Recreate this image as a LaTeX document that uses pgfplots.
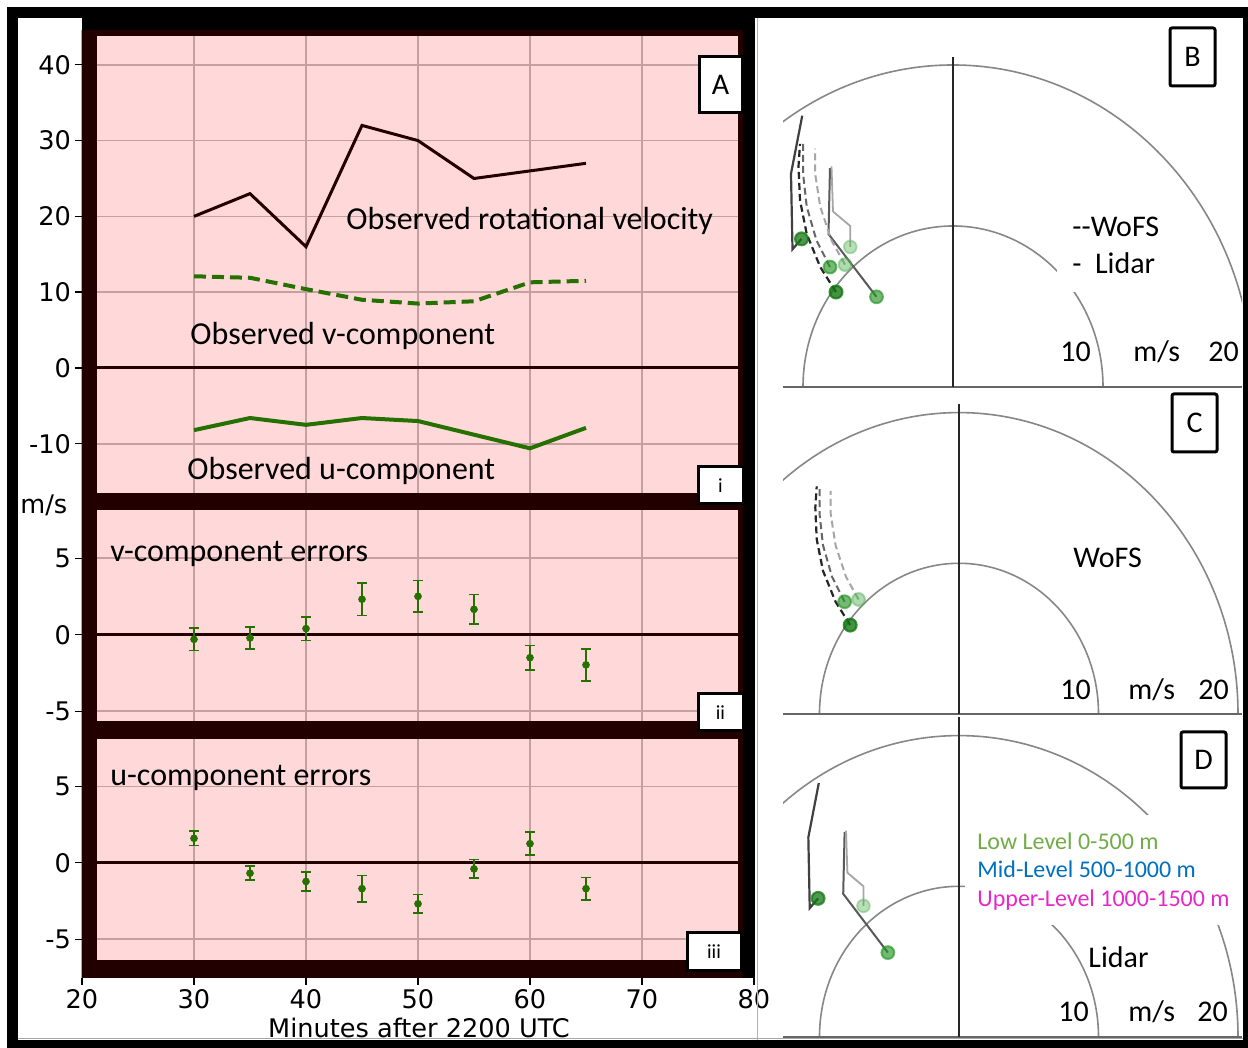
\documentclass[border=0pt]{standalone}
\usepackage{fontspec}
\setmainfont{Carlito}
\newfontfamily\dejavu{DejaVu Sans}
\usepackage{pgfplots}
\usepackage{pgfplotstable}
\pgfplotsset{compat=1.18}

\definecolor{panelpink}{RGB}{255,217,217}
\definecolor{spine}{RGB}{34,0,0}
\definecolor{gridpink}{RGB}{196,160,160}
\definecolor{obsgreen}{RGB}{38,112,0}
\definecolor{ringgray}{RGB}{135,135,135}
\definecolor{lowgreen}{RGB}{112,173,71}
\definecolor{midblue}{RGB}{0,112,192}
\definecolor{upmag}{RGB}{230,40,200}
\definecolor{dotA}{RGB}{20,120,20}
\definecolor{dotB}{RGB}{40,150,40}
\definecolor{dotC}{RGB}{80,175,80}

\newcommand{\tickfont}{\dejavu\fontsize{12.8}{15}\selectfont}
\newcommand{\notefont}{\fontsize{16}{19}\selectfont}
\newcommand{\hodofont}{\fontsize{15}{18}\selectfont}

% observed series (minutes after 2200 UTC, m/s)
\pgfplotstableread{
t rot v u
30 20 12.1 -8.2
35 23 11.9 -6.6
40 16 10.4 -7.5
45 32 9.0 -6.6
50 30 8.5 -7.0
55 25 8.8 -8.8
60 26 11.3 -10.6
65 27 11.5 -7.9
}\obstable

\pgfplotstableread{
t err sd
30 -0.30 0.74
35 -0.21 0.72
40 0.40 0.77
45 2.32 1.05
50 2.51 1.03
55 1.66 0.96
60 -1.50 0.79
65 -1.97 1.05
}\verrtable

\pgfplotstableread{
t err sd
30 1.60 0.48
35 -0.68 0.46
40 -1.22 0.62
45 -1.69 0.86
50 -2.68 0.62
55 -0.40 0.61
60 1.25 0.76
65 -1.69 0.73
}\uerrtable

% hodograph traces (u, v in m/s), lowest level first
\pgfplotstableread{
u v
-10.1 9.2
-10.7 8.55
-10.8 13.25
-10.05 16.85
}\lidarA
\pgfplotstableread{
u v
-5.1 5.6
-8.3 9.5
-8.2 13.6
}\lidarB
\pgfplotstableread{
u v
-6.85 8.7
-6.85 10.0
-8.0 10.9
-8.1 13.7
}\lidarC
\pgfplotstableread{
u v
-7.8 5.9
-8.85 7.45
-9.75 9.5
-10.2 11.6
-10.3 13.7
-10.2 15.1
}\wofsA
\pgfplotstableread{
u v
-8.2 7.45
-9.1 9.1
-9.75 11.2
-10.0 13.3
-10.0 15.1
}\wofsB
\pgfplotstableread{
u v
-7.2 7.6
-8.1 9.1
-8.85 11.2
-9.2 13.3
-9.2 14.8
}\wofsC

\pgfplotsset{
  leftpanel/.style={
    scale only axis, width=336pt, xmin=20, xmax=80,
    anchor=south west,
    axis background/.style={fill=panelpink},
    axis line style={draw=none},
    xtick={20,30,...,80},
    tick pos=left,
    grid=major,
    major grid style={gridpink, line width=0.8pt},
    tick align=outside,
    major tick length=3.5pt,
    tick style={black, line width=0.7pt},
    ticklabel style={font=\tickfont},
    yticklabel style={xshift=1.5pt},
  },
  errpts/.style={obsgreen, only marks, mark=*, mark size=1.7pt,
    error bars/.cd, y dir=both, y explicit,
    error bar style={line width=0.8pt, obsgreen},
    error mark options={rotate=90, mark size=2.3pt, line width=0.8pt, obsgreen}},
  hodo/.style={hide axis, anchor=south west, clip=true, ymin=0},
  dotstyle/.style={mark=*, mark indices={1}, mark size=3.2pt},
  lidA/.style={black!75, line width=1.1pt, dotstyle,
    mark options={solid, draw=dotA, fill=dotA, opacity=0.75}},
  lidB/.style={black!65, line width=1.0pt, dotstyle,
    mark options={solid, draw=dotB, fill=dotB, opacity=0.65}},
  lidC/.style={black!35, line width=0.9pt, dotstyle,
    mark options={solid, draw=dotC, fill=dotC, opacity=0.4}},
  wofA/.style={black!85, line width=1.1pt, dash pattern=on 3.5pt off 2pt, dotstyle,
    mark options={solid, draw=dotA, fill=dotA, opacity=0.8}},
  wofB/.style={black!60, line width=1.0pt, dash pattern=on 3.5pt off 2pt, dotstyle,
    mark options={solid, draw=dotB, fill=dotB, opacity=0.65}},
  wofC/.style={black!35, line width=1.0pt, dash pattern=on 3.5pt off 2pt, dotstyle,
    mark options={solid, draw=dotC, fill=dotC, opacity=0.45}},
}

\tikzset{px/.style={x=0.5pt, y=-0.5pt, yshift=524pt}}

\begin{document}
\begin{tikzpicture}
\fill[white] (0,0) rectangle (624pt,524pt);

% ---------- panel A(i): observed series ----------
\begin{axis}[leftpanel, at={(41pt,277.5pt)}, height=231.5pt,
  ymin=-16.49, ymax=44.59, ytick={-10,0,...,40},
  yticklabels={-10,0,10,20,30,40}, xticklabels={}]
  \draw[spine, line width=1.5pt] (axis cs:20,0) -- (axis cs:80,0);
  \addplot[spine, line width=1.5pt] table[x=t, y=rot] {\obstable};
  \addplot[obsgreen, line width=2pt, dash pattern=on 6pt off 3pt] table[x=t, y=v] {\obstable};
  \addplot[obsgreen, line width=2pt] table[x=t, y=u] {\obstable};
\end{axis}

% ---------- panel A(ii): v-component errors ----------
\begin{axis}[leftpanel, at={(41pt,163.5pt)}, height=114pt,
  ymin=-5.64, ymax=9.27, ytick={-5,0,5}, yticklabels={-5,0,5}, xticklabels={}]
  \draw[spine, line width=1.5pt] (axis cs:20,0) -- (axis cs:80,0);
  \addplot[errpts] table[x=t, y=err, y error=sd] {\verrtable};
\end{axis}

% ---------- panel A(iii): u-component errors ----------
\begin{axis}[leftpanel, at={(41pt,35pt)}, height=128.5pt,
  ymin=-7.53, ymax=9.27, ytick={-5,0,5}, yticklabels={-5,0,5},
  xticklabels={20,30,40,50,60,70,80}, xticklabel style={yshift=1.5pt}]
  \draw[spine, line width=1.5pt] (axis cs:20,0) -- (axis cs:80,0);
  \addplot[errpts] table[x=t, y=err, y error=sd] {\uerrtable};
\end{axis}

% ---------- frames, bands and labels of panel A ----------
\begin{scope}[px]
  \fill[black] (82,18) rectangle (755,30);
  \fill[spine] (82,30) rectangle (743,36);
  \fill[spine] (82,30) rectangle (97,978);
  \fill[spine] (82,493) rectangle (743,510);
  \fill[spine] (82,721) rectangle (743,739);
  \fill[spine] (82,960) rectangle (743,978);
  \fill[spine] (738,30) rectangle (743,978);
  \fill[black] (743,18) rectangle (755,978);

  \node[anchor=base west, font=\notefont, inner sep=0] at (346,230) {Observed rotational velocity};
  \node[anchor=base west, font=\notefont, inner sep=0] at (190,345) {Observed v-component};
  \node[anchor=base west, font=\notefont, inner sep=0] at (187,480) {Observed u-component};
  \node[anchor=base west, font=\notefont, inner sep=0] at (110,562) {v-component errors};
  \node[anchor=base west, font=\notefont, inner sep=0] at (110,786) {u-component errors};
  \node[anchor=base west, font=\tickfont, inner sep=0] at (20,514) {m/s};
  \node[anchor=base, font=\tickfont, inner sep=0] at (419,1038) {Minutes after 2200 UTC};

  \draw[line width=1.5pt, fill=white] (699,57) rectangle (742,113);
  \node[font=\hodofont] at (720.5,85) {A};
  \draw[line width=1.5pt, fill=white] (698,467) rectangle (743,504);
  \node[font=\fontsize{10}{12}\selectfont] at (720.5,486) {i};
  \draw[line width=1.5pt, fill=white] (698,694) rectangle (743,731);
  \node[font=\fontsize{10}{12}\selectfont] at (720.5,713) {ii};
  \draw[line width=1.5pt, fill=white] (687,933) rectangle (741,971);
  \node[font=\fontsize{10}{12}\selectfont] at (714,952) {iii};

  % ---------- hodograph range rings and axes ----------
  \draw[black!30, line width=0.5pt] (757,18) -- (757,1040);
  % B
  \begin{scope}
    \clip (783,18) rectangle (1242,387);
    \draw[ringgray, line width=0.8pt] (953,387) ellipse [x radius=150, y radius=161];
    \draw[ringgray, line width=0.8pt] (953,387) ellipse [x radius=300, y radius=322];
  \end{scope}
  \fill[white] (1057,200) rectangle (1170,292);
  \draw[black!60, line width=0.9pt] (783,387) -- (1242,387);
  \draw[black!85, line width=1.2pt] (953,57) -- (953,387);
  % C
  \begin{scope}
    \clip (783,392) rectangle (1242,714);
    \draw[ringgray, line width=0.8pt] (959,714) ellipse [x radius=139.5, y radius=150.7];
    \draw[ringgray, line width=0.8pt] (959,714) ellipse [x radius=279, y radius=301.4];
  \end{scope}
  \draw[black!60, line width=0.9pt] (783,714) -- (1242,714);
  \draw[black!85, line width=1.2pt] (959,404) -- (959,714);
  % D
  \begin{scope}
    \clip (783,717) rectangle (1242,1037);
    \draw[ringgray, line width=0.8pt] (959,1037) ellipse [x radius=139.5, y radius=150.7];
    \draw[ringgray, line width=0.8pt] (959,1037) ellipse [x radius=279, y radius=301.4];
  \end{scope}
  \fill[white] (965,815) rectangle (1240,925);
  \draw[black!60, line width=0.9pt] (783,1037) -- (1242,1037);
  \draw[black!85, line width=1.2pt] (959,717) -- (959,1037);
\end{scope}

% ---------- hodograph traces ----------
\begin{axis}[hodo, at={(391.5pt,330.5pt)}, x=7.5pt, y=8.05pt,
  xmin=-11.333, xmax=19.267, ymax=22.92]
  \addplot[lidA] table[x=u, y=v] {\lidarA};
  \addplot[lidB] table[x=u, y=v] {\lidarB};
  \addplot[lidC] table[x=u, y=v] {\lidarC};
  \addplot[wofA] table[x=u, y=v] {\wofsA};
  \addplot[wofB] table[x=u, y=v] {\wofsB};
  \addplot[wofC] table[x=u, y=v] {\wofsC};
\end{axis}
\begin{axis}[hodo, at={(391.5pt,167pt)}, x=6.975pt, y=7.535pt,
  xmin=-12.616, xmax=20.287, ymax=21.37]
  \addplot[wofA] table[x=u, y=v] {\wofsA};
  \addplot[wofB] table[x=u, y=v] {\wofsB};
  \addplot[wofC] table[x=u, y=v] {\wofsC};
\end{axis}
\begin{axis}[hodo, at={(391.5pt,5.5pt)}, x=6.975pt, y=7.535pt,
  xmin=-12.616, xmax=20.287, ymax=21.37]
  \addplot[lidA] table[x=u, y=v] {\lidarA};
  \addplot[lidB] table[x=u, y=v] {\lidarB};
  \addplot[lidC] table[x=u, y=v] {\lidarC};
\end{axis}

\begin{scope}[px]
  % B labels
  \node[anchor=base west, font=\hodofont, inner sep=0] at (1072,237) {-{}-WoFS};
  \node[anchor=base west, font=\hodofont, inner sep=0] at (1072,274) {-\hspace{0.45em}Lidar};
  \node[anchor=base west, font=\hodofont, inner sep=0] at (1060,362) {10};
  \node[anchor=base west, font=\hodofont, inner sep=0] at (1133,362) {m/s};
  \node[anchor=base west, font=\hodofont, inner sep=0] at (1208,362) {20};
  \draw[line width=1.5pt, fill=white, rounded corners=1pt] (1170,28) rectangle (1215,86);
  \node[font=\hodofont] at (1192.5,57) {B};
  % C labels
  \node[anchor=base west, font=\hodofont, inner sep=0] at (1073,568) {WoFS};
  \node[anchor=base west, font=\hodofont, inner sep=0] at (1060,700) {10};
  \node[anchor=base west, font=\hodofont, inner sep=0] at (1128,700) {m/s};
  \node[anchor=base west, font=\hodofont, inner sep=0] at (1198,700) {20};
  \draw[line width=1.5pt, fill=white, rounded corners=1pt] (1172,394) rectangle (1217,452);
  \node[font=\hodofont] at (1194.5,423) {C};
  % D labels
  \node[anchor=base west, font=\fontsize{12}{14}\selectfont, inner sep=0, text=lowgreen] at (977,850) {Low Level 0-500 m};
  \node[anchor=base west, font=\fontsize{12}{14}\selectfont, inner sep=0, text=midblue] at (977,878) {Mid-Level 500-1000 m};
  \node[anchor=base west, font=\fontsize{12}{14}\selectfont, inner sep=0, text=upmag] at (977,907) {Upper-Level 1000-1500 m};
  \node[anchor=base west, font=\hodofont, inner sep=0] at (1088,968) {Lidar};
  \node[anchor=base west, font=\hodofont, inner sep=0] at (1058,1022) {10};
  \node[anchor=base west, font=\hodofont, inner sep=0] at (1128,1022) {m/s};
  \node[anchor=base west, font=\hodofont, inner sep=0] at (1197,1022) {20};
  \draw[line width=1.5pt, fill=white, rounded corners=1pt] (1181,732) rectangle (1226,788);
  \node[font=\hodofont] at (1203.5,760) {D};

  % outer frame
  \fill[black] (7,7) rectangle (1248,18);
  \fill[black] (7,7) rectangle (18,1048);
  \fill[black] (7,1040) rectangle (1248,1048);
  \fill[black] (1243,7) rectangle (1248,1048);
  \draw[black!35, line width=0.5pt] (18,1039) -- (1243,1039);
\end{scope}

\pgfresetboundingbox
\path (0,0) rectangle (624pt,524pt);
\end{tikzpicture}
\end{document}
